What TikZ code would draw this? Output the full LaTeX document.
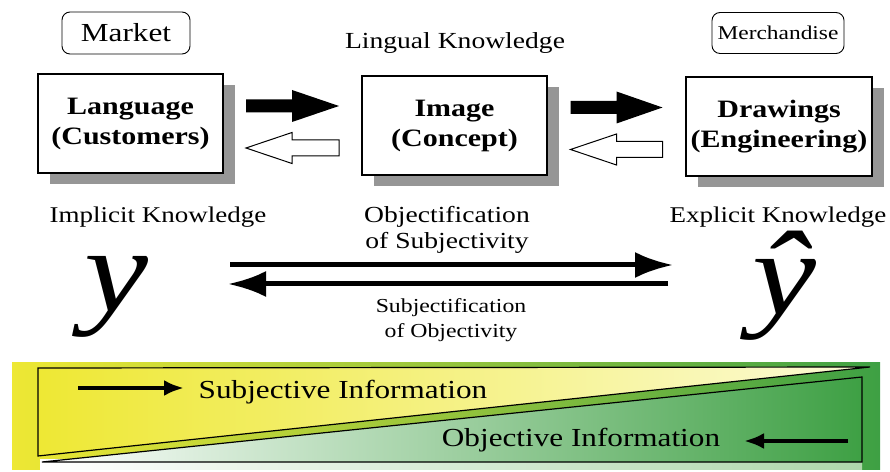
\documentclass[tikz,border=0pt]{standalone}
\usepackage{fontspec}
\setmainfont[FakeStretch=1.2]{Liberation Serif}
\usetikzlibrary{calc,arrows.meta,shadows}
\definecolor{shadowgray}{RGB}{150,150,150}
\definecolor{bandyellow}{RGB}{238,232,52}
\definecolor{paleyellow}{RGB}{252,251,215}
\definecolor{bandgreen}{RGB}{62,160,68}
\definecolor{palegreen}{RGB}{248,252,240}
\tikzset{
  conceptbox/.style={draw,line width=1.4pt,fill=white,minimum width=185pt,minimum height=99pt,
    align=center,font=\fontsize{25}{30}\selectfont\bfseries,
    drop shadow={shadow xshift=12pt,shadow yshift=-11pt,fill=shadowgray,opacity=1}},
  tagbox/.style={draw,line width=0.9pt,rounded corners=8pt,fill=white,inner sep=0pt},
  knowlabel/.style={font=\fontsize{22.5}{26}\selectfont,inner sep=0pt},
  bigsym/.style={font=\fontsize{120}{120}\selectfont\itshape,inner sep=0pt,anchor=base,
    text height=56pt,text depth=26pt},
  longarrow/.style={line width=5pt,-{Latex[length=38pt,width=26pt]}},
  infoarrow/.style={line width=4pt,-{Latex[length=20pt,width=16pt]}},
}
\begin{document}
\begin{tikzpicture}[x=1pt,y=1pt]
\useasboundingbox (0,0) rectangle (890,471);
%%
  % Node: Market
  \node[tagbox,minimum width=128pt,minimum height=42pt,font=\fontsize{26}{26}\selectfont] (market) at (126,438) {Market};
  % Node: Merchandise
  \node[tagbox,minimum width=132pt,minimum height=41pt,font=\fontsize{19.5}{20}\selectfont] (merch) at (778,438) {Merchandise};
  \node[knowlabel,font=\fontsize{23}{26}\selectfont] (lingual) at (455,428) {Lingual Knowledge};
  % Node: Language
  \node[conceptbox] (lang) at (130.5,347.5) {Language\\(Customers)};
  % Node: Image
  \node[conceptbox] (img) at (454.5,345.5) {Image\\(Concept)};
  % Node: Drawings
  \node[conceptbox,minimum width=186pt] (drw) at (779,344.5) {Drawings\\(Engineering)};
%
  \coordinate (m1) at ($(lang.east)!.5!(img.west)$);
  \coordinate (m2) at ($(img.east)!.5!(drw.west)$);
  % Edge: Language -> Image
  \fill ($(m1)+(-46.5,18.5)$) ++(0,6.5) -- ++(46,0) -- ++(0,9.5) -- ++(47,-16) -- ++(-47,-16) -- ++(0,9.5) -- ++(-46,0) -- cycle;
  % Edge: Image -> Language
  \draw[line width=1pt,fill=white] ($(m1)+(-46.5,-23.5)$) -- ++(46,15.5) -- ++(0,-7.5) -- ++(47,0) -- ++(0,-16) -- ++(-47,0) -- ++(0,-7.5) -- cycle;
  % Edge: Image -> Drawings
  \fill ($(m2)+(-46,18.5)$) ++(0,6.5) -- ++(46,0) -- ++(0,9.5) -- ++(46,-16) -- ++(-46,-16) -- ++(0,9.5) -- ++(-46,0) -- cycle;
  % Edge: Drawings -> Image
  \draw[line width=1pt,fill=white] ($(m2)+(-46,-23.5)$) -- ++(46,15.5) -- ++(0,-7.5) -- ++(46,0) -- ++(0,-16) -- ++(-46,0) -- ++(0,-7.5) -- cycle;
%
  \node[knowlabel] (implicit) at (158,254) {Implicit Knowledge};
  \node[knowlabel] (explicit) at (778,254) {Explicit Knowledge};
  \node[knowlabel,align=center,font=\fontsize{23}{26}\selectfont] (objsub) at (447,241) {Objectification\\of Subjectivity};
  \node[knowlabel,align=center,font=\fontsize{19.8}{25}\selectfont] (subobj) at (451,151) {Subjectification\\of Objectivity};
  % Node: y
  \node[bigsym] (ysym) at (116,159) {y};
  \node[bigsym,text height=62pt] (yhat) at (784,156) {\^y};
  % Edge: y -> yhat
  \coordinate (objL) at (230,206);
  \coordinate (objR) at (673,206);
  \draw[longarrow] (objL) -- (objR);
  % Edge: yhat -> y
  \coordinate (subR) at (668,187);
  \coordinate (subL) at (228,187);
  \draw[longarrow] (subR) -- (subL);
%
  % band
  \shade[left color=bandyellow,middle color=palegreen,right color=bandgreen] (12,2) rectangle (880,109);
  \shade[left color=white,right color=palegreen!60!bandgreen] (40,2) rectangle (862,12);
  \shade[left color=bandyellow,right color=paleyellow] (38,103) -- (870,104) -- (38,15) -- cycle;
  \shade[left color=white,right color=bandgreen] (42,9) -- (862,94) -- (862,9) -- cycle;
  \draw[line width=1.2pt] (38,103) -- (870,104) -- (38,15) -- cycle;
  \draw[line width=1.2pt] (42,9) -- (862,94) -- (862,9) -- cycle;
  \node[knowlabel,font=\fontsize{26}{26}\selectfont] (subjinfo) at (343,79) {Subjective Information};
  \node[knowlabel,font=\fontsize{26}{26}\selectfont] (objinfo) at (581,31) {Objective Information};
  \coordinate (subjtail) at (78,83);
  \coordinate (subjhead) at (184,83);
  \draw[infoarrow] (subjtail) -- (subjhead);
  \coordinate (objtail) at (848,30);
  \coordinate (objhead) at (744,30);
  \draw[infoarrow] (objtail) -- (objhead);
%
\end{tikzpicture}
\end{document}
